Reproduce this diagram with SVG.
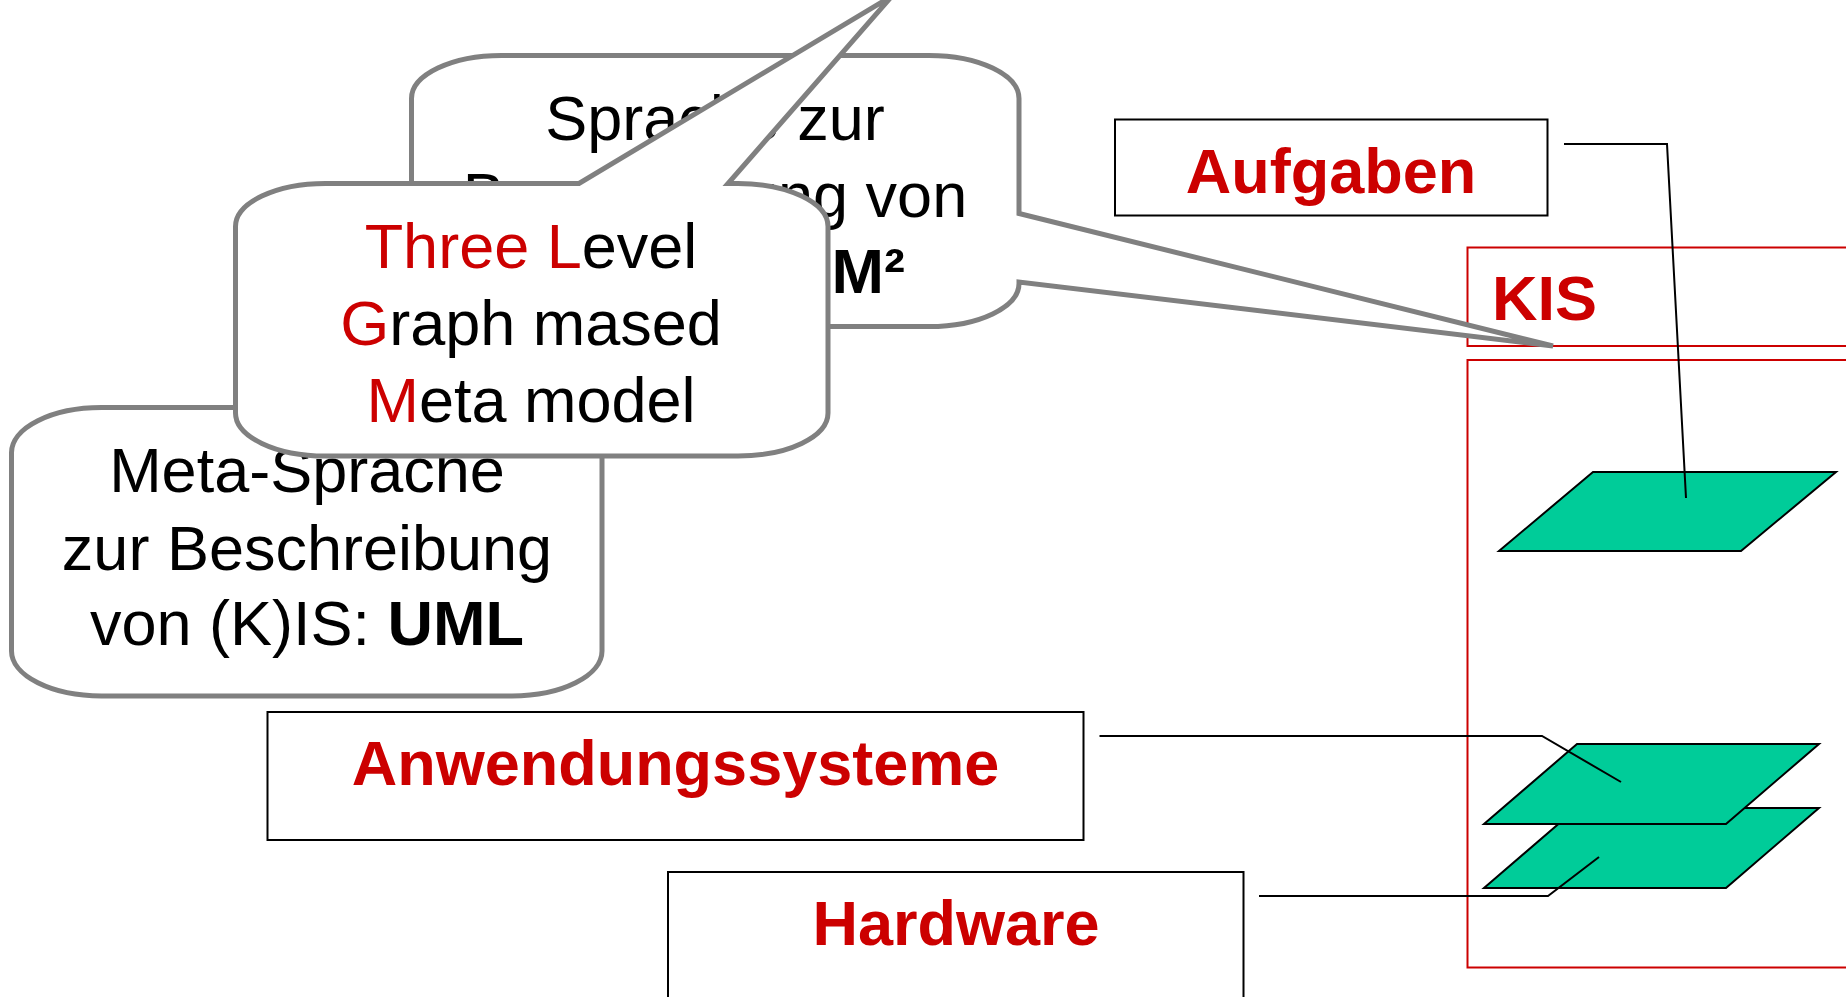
<svg xmlns="http://www.w3.org/2000/svg" width="1846" height="997" viewBox="0 0 1846 997">
  <style>
    .txt { font-family: "Liberation Sans", Arial, sans-serif; font-size: 63px; fill: #000000; text-anchor: middle; }
    .bold { font-weight: bold; }
    .red { fill: #CC0000; }
    .frame { fill: #FFFFFF; stroke: #000000; stroke-width: 2; }
    .scope { fill: none; stroke: #CC0000; stroke-width: 2; }
    .bubble { fill: #FFFFFF; stroke: #808080; stroke-width: 5; }
    .layer { fill: #00CC99; stroke: #000000; stroke-width: 2; stroke-linejoin: miter; }
    .link { fill: none; stroke: #000000; stroke-width: 2; }
  </style>
  <rect width="1846" height="997" fill="#FFFFFF"/>

  <!-- KIS scope frames -->
  <g id="kis">
    <rect class="scope" x="1467.5" y="247.5" width="400" height="98.5"/>
    <text class="txt bold red" x="1492" y="320" style="text-anchor:start">KIS</text>
  </g>
  <g id="kis-body">
    <rect class="scope" x="1467.5" y="360" width="400" height="607.5"/>
  </g>

  <!-- layer planes -->
  <g id="plane-tasks">
    <polygon class="layer" points="1593,472 1836,472 1741,551 1499,551"/>
  </g>
  <g id="plane-hardware">
    <polygon class="layer" points="1577,808 1819,808 1726,888 1484,888"/>
  </g>
  <g id="plane-apps">
    <polygon class="layer" points="1577,744 1819,744 1726,824 1484,824"/>
  </g>

  <!-- label boxes -->
  <g id="aufgaben">
    <rect class="frame" x="1115" y="119.5" width="432.5" height="96"/>
    <text class="txt bold red" x="1331" y="193">Aufgaben</text>
  </g>
  <g id="anwendungssysteme">
    <rect class="frame" x="267.5" y="712" width="816" height="128"/>
    <text class="txt bold red" x="675.5" y="785">Anwendungssysteme</text>
  </g>
  <g id="hardware">
    <rect class="frame" x="668" y="872" width="575.5" height="140"/>
    <text class="txt bold red" x="956" y="945">Hardware</text>
  </g>

  <!-- connectors from labels to planes -->
  <g id="connectors">
    <polyline class="link" points="1564,144 1667,144 1686,498"/>
    <polyline class="link" points="1099.5,736 1542,736 1621,782"/>
    <polyline class="link" points="1259,896 1548,896 1599,857"/>
  </g>

  <!-- callout: language description -->
  <g id="callout-sprache">
    <path class="bubble" d="M 501.5,55.5 H 929 A 90 43 0 0 1 1019,98.5 V 213.5 L 1553,346 L 1019,282 V 283.5 A 90 43 0 0 1 929,326.5 H 501.5 A 90 43 0 0 1 411.5,283.5 V 98.5 A 90 43 0 0 1 501.5,55.5 Z"/>
    <text class="txt" x="715" y="139.5">Sprache zur</text>
    <text class="txt" x="715" y="216.5">Beschreibung von</text>
    <text class="txt bold" x="905" y="293" style="text-anchor:end">TLGM²</text>
  </g>

  <!-- callout: meta language -->
  <g id="callout-meta">
    <path class="bubble" d="M 101.5,407.5 H 512 A 90 45 0 0 1 602,452.5 V 651 A 90 45 0 0 1 512,696 H 101.5 A 90 45 0 0 1 11.5,651 V 452.5 A 90 45 0 0 1 101.5,407.5 Z"/>
    <text class="txt" x="307" y="492">Meta-Sprache</text>
    <text class="txt" x="307" y="569.5">zur Beschreibung</text>
    <text class="txt" x="307" y="645">von (K)IS: <tspan class="bold">UML</tspan></text>
  </g>

  <!-- callout: three level graph based meta model -->
  <g id="callout-tlgm">
    <path class="bubble" d="M 325.5,183.5 H 579 L 892,-4 L 728,183.5 H 738 A 90 43 0 0 1 828,226.5 V 413 A 90 43 0 0 1 738,456 H 325.5 A 90 43 0 0 1 235.5,413 V 226.5 A 90 43 0 0 1 325.5,183.5 Z"/>
    <text class="txt" x="531" y="268"><tspan class="red">Three L</tspan>evel</text>
    <text class="txt" x="531" y="345"><tspan class="red">G</tspan>raph mased</text>
    <text class="txt" x="531" y="421.5"><tspan class="red">M</tspan>eta model</text>
  </g>
</svg>
